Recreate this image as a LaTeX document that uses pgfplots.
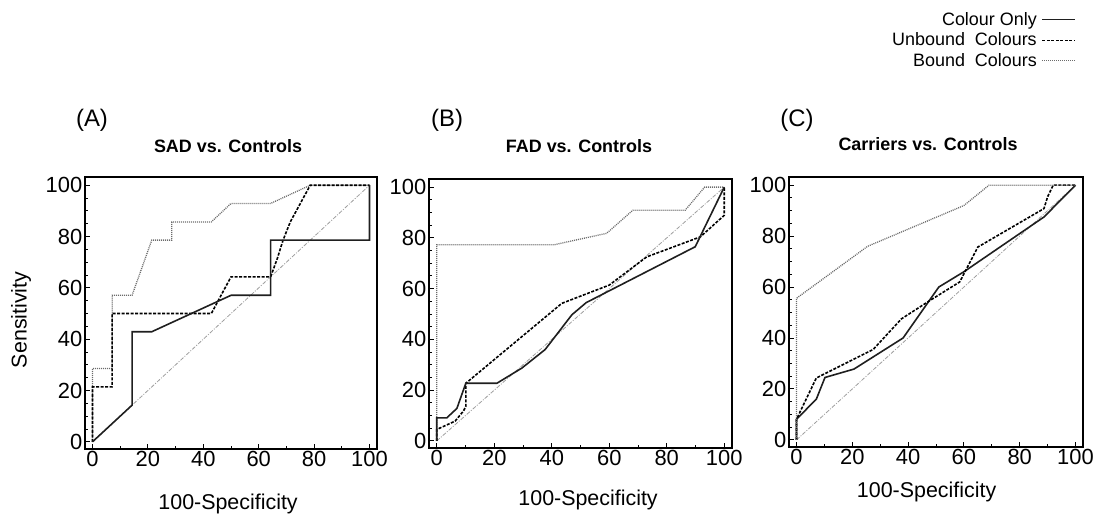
\documentclass[border=0pt]{standalone}
\usepackage{fontspec}
\setmainfont{Liberation Sans}
\usepackage{pgfplots}
\pgfplotsset{compat=1.18}

\definecolor{solidc}{gray}{0.12}
\definecolor{boundc}{gray}{0.42}
\definecolor{diagc}{gray}{0.62}

\pgfplotsset{
 rocax/.style={
  scale only axis, clip=false,
  xmin=-2.7, xmax=102.7, ymin=-2.8, ymax=103.2,
  xtick={0,20,...,100}, ytick={0,20,...,100},
  minor x tick num=1, minor y tick num=3,
  tick align=inside, tick pos=left,
  major tick length=5bp, minor tick length=3bp,
  every tick/.append style={black, line width=0.9bp},
  axis line style={line width=2bp, black},
  ticklabel style={font=\fontsize{22}{26}\selectfont},
  xticklabel style={inner sep=2bp},
  yticklabel style={inner sep=2.5bp},
  /pgf/number format/assume math mode=true,
  label style={font=\fontsize{21.5}{26}\selectfont},
  title style={font=\bfseries\fontsize{18}{22}\selectfont, anchor=center},
 },
 colonly/.style={line width=1.6bp, solidc},
 unbound/.style={line width=1.6bp, black, dash pattern=on 3bp off 1.5bp},
 bound/.style={line width=1.3bp, boundc, dash pattern=on 1bp off 1bp},
 diag/.style={line width=0.8bp, diagc, dash pattern=on 4bp off 1.5bp on 1bp off 1.5bp},
}

\begin{document}
\begin{tikzpicture}
\useasboundingbox (0,0) rectangle (1097bp,-514bp);

% ---------- Panel A ----------
\begin{axis}[rocax, at={(85bp,-449bp)}, anchor=south west,
  width=292bp, height=272bp,
  ylabel=Sensitivity, xlabel=100-Specificity,
  ylabel style={at={(axis description cs:-0.219,0.475)}, anchor=center},
  xlabel style={at={(axis description cs:0.49,-0.202)}, anchor=center},
  title=SAD vs. Controls,
  title style={at={(axis description cs:0.49,1.092)}}]
\addplot[diag] coordinates {(0,0)(100,100)};
\addplot[bound] coordinates {(0,0)(0,28.6)(7.1,28.6)(7.1,57.1)(14.3,57.1)(21.4,78.6)(28.6,78.6)(28.6,85.7)(42.9,85.7)(50,92.9)(64.3,92.9)(78.6,100)(100,100)};
\addplot[unbound] coordinates {(0,0)(0,21.4)(7.1,21.4)(7.1,50)(42.9,50)(50,64.3)(64.3,64.3)(66.7,71.4)(68.8,78.6)(71.4,85.7)(78.6,100)(100,100)};
\addplot[colonly] coordinates {(0,0)(14.3,14.3)(14.3,42.9)(21.4,42.9)(50,57.1)(64.3,57.1)(64.3,78.6)(100,78.6)(100,100)};
\node[font=\fontsize{24}{28}\selectfont] at (axis description cs:0.024,1.21) {(A)};
\end{axis}

% ---------- Panel B ----------
\begin{axis}[rocax, at={(429bp,-448bp)}, anchor=south west,
  width=303bp, height=269bp,
  xlabel=100-Specificity,
  xlabel style={at={(axis description cs:0.525,-0.193)}, anchor=center},
  title=FAD vs. Controls,
  title style={at={(axis description cs:0.495,1.10)}}]
\addplot[diag] coordinates {(0,0)(100,100)};
\addplot[bound] coordinates {(0,0)(0,77.3)(40.9,77.3)(59.1,81.8)(68.2,90.9)(86.4,90.9)(93.2,100)(100,100)};
\addplot[unbound] coordinates {(0,0)(0,4.5)(6.4,7.8)(9.3,11.8)(10.1,13.6)(10.1,22.7)(43.5,54.2)(60,61.4)(73,72.5)(91.7,80.4)(100,88.9)(100,100)};
\addplot[colonly] coordinates {(0,0)(0,9.1)(3.5,9.1)(7,12.8)(10.1,22.7)(20.9,22.7)(29.6,28.7)(37.7,36)(47,49.7)(52,54.5)(89.9,76.5)(100,100)};
\node[font=\fontsize{24}{28}\selectfont] at (axis description cs:0.06,1.22) {(B)};
\end{axis}

% ---------- Panel C ----------
\begin{axis}[rocax, at={(789bp,-447bp)}, anchor=south west,
  width=294bp, height=270bp,
  xlabel=100-Specificity,
  xlabel style={at={(axis description cs:0.468,-0.166)}, anchor=center},
  title=Carriers vs. Controls,
  title style={at={(axis description cs:0.473,1.10)}},
  legend plot pos=right,
  legend cell align=right,
  legend image code/.code={\draw[#1, line width=1bp] (0bp,0bp) -- (33bp,0bp);},
  legend style={at={(axis description cs:0.976,1.618)}, anchor=north east,
    draw=none, fill=none, inner sep=0pt, row sep=2bp, column sep=3bp,
    font=\fontsize{18}{21}\selectfont}]
\addplot[diag, forget plot] coordinates {(0,0)(100,100)};
\addplot[colonly] coordinates {(0,0)(0,8.1)(7.1,16)(10.2,24.5)(20.6,27.8)(38.2,40)(51,60)(60,66)(88.7,87.5)(100,100)};
\addlegendentry{Colour Only}
\addplot[unbound] coordinates {(0,0)(0,8.1)(7.1,24.3)(27.5,35.5)(37.6,47.5)(47.5,54.5)(58.5,62)(65,75.7)(88.7,90.8)(90,95.4)(92,100)(100,100)};
\addlegendentry{Unbound\ \ Colours}
\addplot[bound] coordinates {(0,0)(0,55.6)(25.5,76)(60,92)(69,100)(100,100)};
\addlegendentry{Bound\ \ Colours}
\node[font=\fontsize{24}{28}\selectfont] at (axis description cs:0.027,1.21) {(C)};
\end{axis}
\end{tikzpicture}
\end{document}
